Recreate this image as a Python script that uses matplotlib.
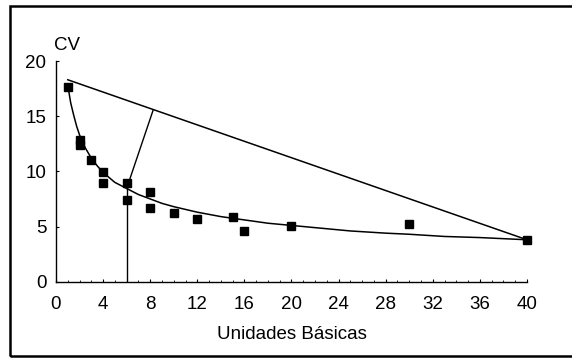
import matplotlib.pyplot as plt
from matplotlib.patches import Rectangle
from matplotlib.ticker import MultipleLocator

plt.rcParams['font.family'] = ['Liberation Sans', 'DejaVu Sans']

# observed points
units = [1, 2, 2, 3, 4, 4, 6, 6, 8, 8, 10, 12, 15, 16, 20, 30, 40]
cv = [17.6, 12.8, 12.4, 11.0, 9.9, 8.9, 8.95, 7.4, 8.1, 6.7, 6.2, 5.7, 5.85, 4.6, 5.05, 5.25, 3.8]

# fitted curve
curve_x = [1, 1.25, 1.5, 1.75, 2, 2.5, 3, 3.5, 4, 5, 6, 7, 8, 9, 10, 12, 14, 16, 18,
           20, 22, 25, 28, 30, 33, 36, 40]
curve_y = [17.8, 16.2, 15.1, 14.1, 13.3, 12.1, 11.2, 10.5, 9.9, 9.0, 8.45, 7.9, 7.5, 7.1, 6.8,
           6.3, 5.9, 5.6, 5.3, 5.1, 4.9, 4.6, 4.4, 4.3, 4.1, 4.0, 3.8]

# straight line between the ends
chord_x = [1, 40]
chord_y = [18.3, 3.8]

# distance segment and vertical marker at 6 units
dist_x = [6, 8.25]
dist_y = [8.45, 15.55]
vert_x = [6, 6]
vert_y = [0, 8.45]

fig = plt.figure(figsize=(5.72, 3.58), dpi=100)
ax = fig.add_axes([0.0979, 0.2131, 0.8234, 0.6165])

ax.plot(curve_x, curve_y, color='black', lw=1.1)
ax.plot(chord_x, chord_y, color='black', lw=1.1)
ax.plot(dist_x, dist_y, color='black', lw=1.0)
ax.plot(vert_x, vert_y, color='black', lw=1.0)
ax.plot(units, cv, 's', color='black', ms=6, clip_on=False)

ax.set_xlim(0, 40)
ax.set_ylim(0, 20)
ax.set_xticks(range(0, 41, 4))
ax.set_yticks(range(0, 21, 5))
ax.xaxis.set_minor_locator(MultipleLocator(1))
ax.tick_params(axis='both', which='major', direction='in', length=2, width=0.8,
               labelsize=13.5, pad=7)
ax.tick_params(axis='x', which='major', pad=10)
ax.tick_params(axis='x', which='minor', direction='in', length=1.5, width=0.6)
for s in ['top', 'right']:
    ax.spines[s].set_visible(False)
for s in ['left', 'bottom']:
    ax.spines[s].set_linewidth(1.0)

ax.set_xlabel('Unidades Básicas', fontsize=13.5, labelpad=10)
fig.text(0.118, 0.874, 'CV', fontsize=13.5, ha='center', va='center')

# frame around the figure (open on the right, as in the scan)
fig.patches.append(Rectangle((10 / 572, 2 / 358), 1.2, 350 / 358, transform=fig.transFigure,
                             fill=False, lw=1.8, edgecolor='black'))

fig.savefig('out.png', dpi=100)
